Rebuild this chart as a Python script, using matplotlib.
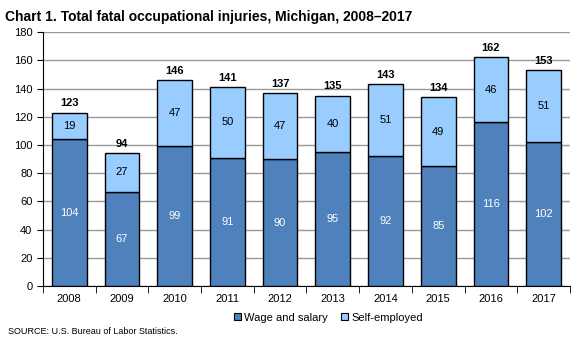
import numpy as np
import matplotlib
matplotlib.use("Agg")
import matplotlib.pyplot as plt
from matplotlib.patches import Patch

plt.rcParams['font.family'] = ['Liberation Sans', 'DejaVu Sans']

years = ['2008', '2009', '2010', '2011', '2012', '2013', '2014', '2015', '2016', '2017']
wage = [104, 67, 99, 91, 90, 95, 92, 85, 116, 102]
self_emp = [19, 27, 47, 50, 47, 40, 51, 49, 46, 51]
totals = [123, 94, 146, 141, 137, 135, 143, 134, 162, 153]

c_wage = '#4F81BD'
c_self = '#99CCFF'

fig = plt.figure(figsize=(5.87, 3.41), dpi=100)
ax = fig.add_axes([0.073, 0.161, 0.898, 0.745])

x = np.arange(len(years))
w = 0.66
ax.bar(x, wage, w, color=c_wage, edgecolor='black', linewidth=1, zorder=3)
ax.bar(x, self_emp, w, bottom=wage, color=c_self, edgecolor='black', linewidth=1, zorder=3)

for i in range(len(years)):
    ax.text(x[i], wage[i] / 2, str(wage[i]), ha='center', va='center', color='white', fontsize=8, zorder=4)
    ax.text(x[i], wage[i] + self_emp[i] / 2, str(self_emp[i]), ha='center', va='center', color='black', fontsize=8, zorder=4)
    ax.text(x[i], totals[i] + 3, str(totals[i]), ha='center', va='bottom', color='black', fontsize=8, fontweight='bold', zorder=4)

ax.set_xlim(-0.5, len(years) - 0.5)
ax.set_ylim(0, 180)
ax.set_yticks(range(0, 181, 20))
ax.yaxis.grid(True, color='#999999', linewidth=1, zorder=0)
ax.set_axisbelow(True)

ax.set_xticks(x)
ax.set_xticklabels(years, fontsize=8)
ax.set_xticks(np.arange(-0.5, len(years), 1), minor=True)
ax.tick_params(axis='x', which='major', length=0, pad=6)
ax.tick_params(axis='x', which='minor', length=5, color='black', direction='out')
ax.tick_params(axis='y', labelsize=8, length=4, color='black')

for s in ['top', 'right']:
    ax.spines[s].set_visible(False)
ax.spines['left'].set_color('black')
ax.spines['bottom'].set_color('black')

fig.text(0.009, 0.97, 'Chart 1. Total fatal occupational injuries, Michigan, 2008\u20132017',
         fontsize=10, fontweight='bold', va='top', ha='left')

handles = [Patch(facecolor=c_wage, edgecolor='black', linewidth=0.8, label='Wage and salary'),
           Patch(facecolor=c_self, edgecolor='black', linewidth=0.8, label='Self-employed')]
fig.legend(handles=handles, loc='center', bbox_to_anchor=(0.56, 0.068), ncol=2, frameon=False,
           fontsize=8, handlelength=0.6, handleheight=0.6, handletextpad=0.3, columnspacing=1.2)

fig.text(0.014, 0.028, 'SOURCE: U.S. Bureau of Labor Statistics.', fontsize=6.5, va='center', ha='left')

fig.savefig('out.png', dpi=100)
